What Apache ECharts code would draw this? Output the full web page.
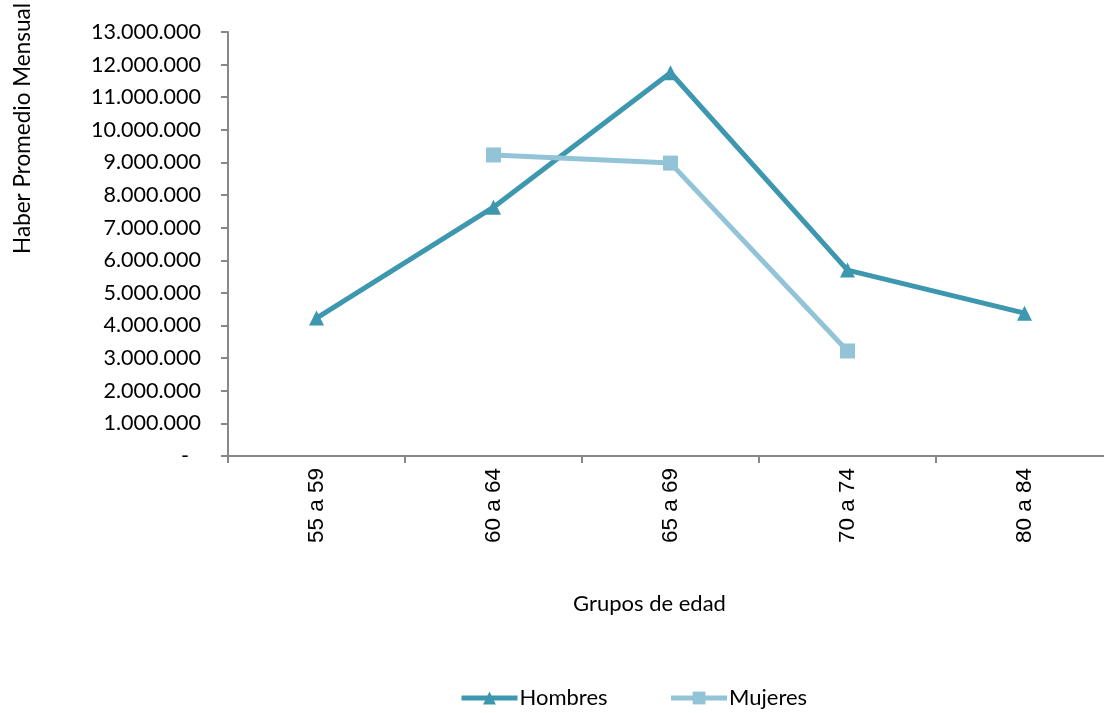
<!DOCTYPE html>
<html>
<head>
<meta charset="utf-8">
<script src="https://cdn.jsdelivr.net/npm/echarts@6/dist/echarts.min.js"></script>
<style>html,body{margin:0;padding:0;background:#fff;overflow:hidden;width:1104px;height:713px}#c{width:1115px;height:713px}</style>
</head>
<body>
<div id="c"></div>
<script>
var categories = ['55 a 59', '60 a 64', '65 a 69', '70 a 74', '80 a 84'];
var hombres = [4230000, 7630000, 11750000, 5700000, 4380000];
var mujeres = [null, 9230000, 8980000, 3220000, null];
var seriesNames = ['Hombres', 'Mujeres'];
var yTitle = 'Haber Promedio Mensual';
var xTitle = 'Grupos de edad';

var FONT = 'Lato';
function fmt(v) {
  if (v === 0) return '{d|-}';
  return String(v).replace(/\B(?=(\d{3})+(?!\d))/g, '.');
}
var chart = echarts.init(document.getElementById('c'), null, {renderer: 'canvas'});
chart.setOption({
  animation: false,
  backgroundColor: '#fff',
  grid: {left: 228, top: 32, right: 2, height: 424, containLabel: false},
  xAxis: {
    type: 'category', data: categories, boundaryGap: true,
    axisLine: {lineStyle: {color: '#888', width: 2}},
    axisTick: {show: true, length: 7, lineStyle: {color: '#888', width: 2}},
    axisLabel: {rotate: 90, margin: 12, color: '#000', fontFamily: 'Liberation Sans', fontSize: 22.5}
  },
  yAxis: {
    type: 'value', min: 0, max: 13000000, interval: 1000000,
    splitLine: {show: false},
    axisLine: {show: true, lineStyle: {color: '#888', width: 2}},
    axisTick: {show: true, length: 7, lineStyle: {color: '#888', width: 2}},
    axisLabel: {margin: 27, color: '#000', fontFamily: FONT, fontSize: 21.5, formatter: fmt,
      rich: {d: {fontFamily: FONT, fontSize: 21.5, color: '#000', padding: [0, 12, 0, 0]}}}
  },
  legend: {
    left: 459, top: 687, padding: 0, itemWidth: 56, itemHeight: 16, itemGap: 61,
    lineStyle: {width: 5},
    textStyle: {fontFamily: FONT, fontSize: 22, color: '#000', padding: [0, 0, 0, -3]},
    data: seriesNames
  },
  graphic: [
    {type: 'text', left: 11, top: 3, rotation: Math.PI / 2,
      style: {text: yTitle, fontFamily: FONT, fontSize: 22.5, fill: '#000'}},
    {type: 'text', left: 573, top: 593,
      style: {text: xTitle, fontFamily: FONT, fontSize: 22, fill: '#000'}}
  ],
  series: [
    {name: seriesNames[0], type: 'line', data: hombres, symbol: 'triangle', symbolSize: 15,
      lineStyle: {color: '#3D97AF', width: 5}, itemStyle: {color: '#3D97AF'}, connectNulls: false},
    {name: seriesNames[1], type: 'line', data: mujeres, symbol: 'rect', symbolSize: 15,
      lineStyle: {color: '#92C3D6', width: 5}, itemStyle: {color: '#92C3D6'}, connectNulls: false}
  ]
});
</script>
</body>
</html>
